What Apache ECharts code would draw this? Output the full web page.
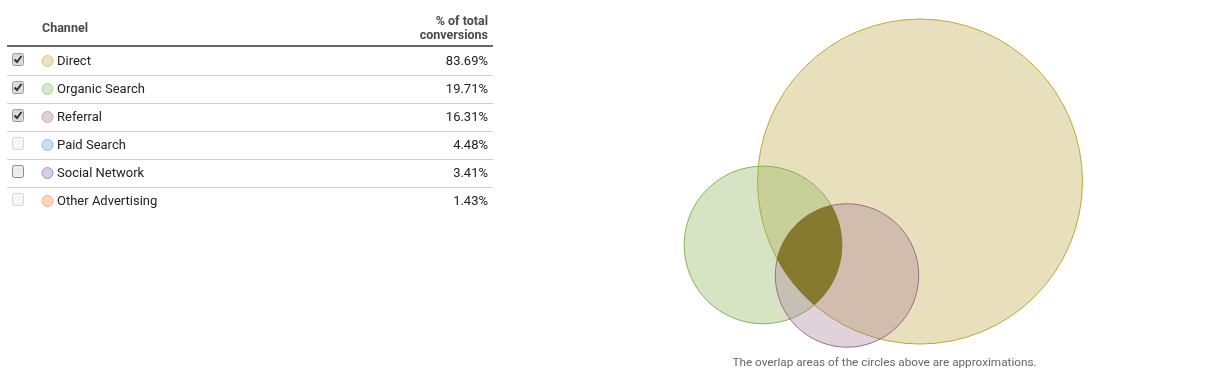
<!DOCTYPE html>
<html>
<head>
<meta charset="utf-8">
<script src="https://cdn.jsdelivr.net/npm/echarts@6/dist/echarts.min.js"></script>
<style>
  html, body { margin: 0; padding: 0; background: #fff; }
  #chart { width: 1218px; height: 385px; }
</style>
</head>
<body>
<div id="chart"></div>
<script>
// ---- data ----
const channels = ['Direct', 'Organic Search', 'Referral', 'Paid Search', 'Social Network', 'Other Advertising'];
const shares = [83.69, 19.71, 16.31, 4.48, 3.41, 1.43];
const checked = [true, true, true, false, false, false];
const enabled = [true, true, true, false, true, false];
// Venn layout, in sqrt(% ) units; radius = sqrt(share)
const vennChannels = [0, 1, 2];
const vennCenterX = [14.64, 5.80, 10.53];
const vennCenterY = [10.06, 6.49, 4.77];
const headerChannel = 'Channel';
const headerShare = ['% of total', 'conversions'];
const footnote = 'The overlap areas of the circles above are approximations.';

// ---- styles ----
const legendFill = ['#ece2bd', '#d8e8ca', '#e3d0d8', '#cadcfc', '#d8cbeb', '#fdd7bc'];
const legendStroke = ['#d6c27c', '#aed192', '#c6a4b2', '#8fb6f5', '#a990d2', '#f3ab7f'];
const vennFill = ['rgb(232,224,188)', 'rgba(137,177,86,0.35)', 'rgba(161,118,143,0.33)'];
const vennStroke = ['#c2a535', '#86b356', '#9c6e86'];
const tripleFill = '#867a2f';
const FONT = 'Roboto, "Noto Sans", sans-serif';

const chart = echarts.init(document.getElementById('chart'));

const rowY0 = 61, rowH = 28, tableL = 7, tableR = 493;
const graphics = [];
graphics.push({ type: 'text', x: 42, y: 28.5, style: { text: headerChannel, font: 'bold 12.5px ' + FONT, fill: '#4a4a4a', verticalAlign: 'middle' } });
headerShare.forEach((t, i) => {
  graphics.push({ type: 'text', x: 488, y: 22 + i * 14, style: { text: t, font: 'bold 12.5px ' + FONT, fill: '#4a4a4a', align: 'right', verticalAlign: 'middle' } });
});
graphics.push({ type: 'line', shape: { x1: tableL, y1: 46, x2: tableR, y2: 46 }, style: { stroke: '#666', lineWidth: 2 } });

channels.forEach((name, i) => {
  const y = rowY0 + i * rowH;
  if (i < channels.length - 1) {
    graphics.push({ type: 'line', shape: { x1: tableL, y1: y + 14.5, x2: tableR, y2: y + 14.5 }, style: { stroke: '#d0d0d0', lineWidth: 1 } });
  }
  // checkbox
  const on = enabled[i];
  graphics.push({ type: 'rect', shape: { x: 12.5, y: y - 7.5, width: 11, height: 12, r: 2 },
    style: { fill: checked[i] ? '#dcdcdc' : (on ? '#ececec' : '#f6f6f6'), stroke: on ? (checked[i] ? '#9a9a9a' : '#8a8a8a') : '#d6d6d6', lineWidth: 1 } });
  if (checked[i]) {
    graphics.push({ type: 'polyline', shape: { points: [[14.5, y - 1.5], [17, y + 1], [21.5, y - 5]] },
      style: { stroke: '#333', lineWidth: 2, fill: null } });
  }
  // legend dot
  graphics.push({ type: 'circle', shape: { cx: 47.5, cy: y, r: 5.5 }, style: { fill: legendFill[i], stroke: legendStroke[i], lineWidth: 1 } });
  graphics.push({ type: 'text', x: 57, y: y + 0.5, style: { text: name, font: '13px ' + FONT, fill: '#222', verticalAlign: 'middle' } });
  graphics.push({ type: 'text', x: 488, y: y + 1, style: { text: shares[i].toFixed(2) + '%', font: '13px ' + FONT, fill: '#222', align: 'right', verticalAlign: 'middle' } });
});
graphics.push({ type: 'text', x: 884.5, y: 363, style: { text: footnote, font: '11.75px ' + FONT, fill: '#666', align: 'center', verticalAlign: 'middle' } });

const vennData = vennChannels.map((c, k) => [vennCenterX[k], vennCenterY[k], Math.sqrt(shares[c]), k]);

function tripleItem(params, api) {
  const circles = vennData.map(d => {
    const p = api.coord([d[0], d[1]]);
    return { x: p[0], y: p[1], r: api.size([d[2], d[2]])[0] };
  });
  const pts = [];
  circles.forEach((c, i) => {
    for (let a = 0; a < 720; a++) {
      const t = a / 720 * Math.PI * 2;
      const px = c.x + c.r * Math.cos(t), py = c.y + c.r * Math.sin(t);
      let inside = true;
      circles.forEach((o, j) => {
        if (j !== i && Math.hypot(px - o.x, py - o.y) > o.r + 0.01) inside = false;
      });
      if (inside) pts.push([px, py]);
    }
  });
  if (!pts.length) return null;
  let mx = 0, my = 0;
  pts.forEach(p => { mx += p[0]; my += p[1]; });
  mx /= pts.length; my /= pts.length;
  pts.sort((a, b) => Math.atan2(a[1] - my, a[0] - mx) - Math.atan2(b[1] - my, b[0] - mx));
  return { type: 'polygon', shape: { points: pts }, style: { fill: tripleFill, stroke: 'rgba(120,100,40,0.6)', lineWidth: 0.6 } };
}

chart.setOption({
  animation: false,
  grid: { left: 660, top: 5, width: 444, height: 355.2 },
  xAxis: { type: 'value', min: 0, max: 25, show: false },
  yAxis: { type: 'value', min: 0, max: 20, show: false },
  graphic: graphics,
  series: [
    {
      type: 'custom',
      coordinateSystem: 'cartesian2d',
      data: vennData,
      encode: { x: 0, y: 1 },
      renderItem: function (params, api) {
        const c = api.coord([api.value(0), api.value(1)]);
        const r = api.size([api.value(2), api.value(2)])[0];
        const k = api.value(3);
        return { type: 'circle', shape: { cx: c[0], cy: c[1], r: r }, style: { fill: vennFill[k], stroke: vennStroke[k], lineWidth: 1 } };
      },
      z: 2
    },
    {
      type: 'custom',
      coordinateSystem: 'cartesian2d',
      data: [[vennCenterX[0], vennCenterY[0]]],
      encode: { x: 0, y: 1 },
      renderItem: tripleItem,
      z: 3
    }
  ]
});
</script>
</body>
</html>
